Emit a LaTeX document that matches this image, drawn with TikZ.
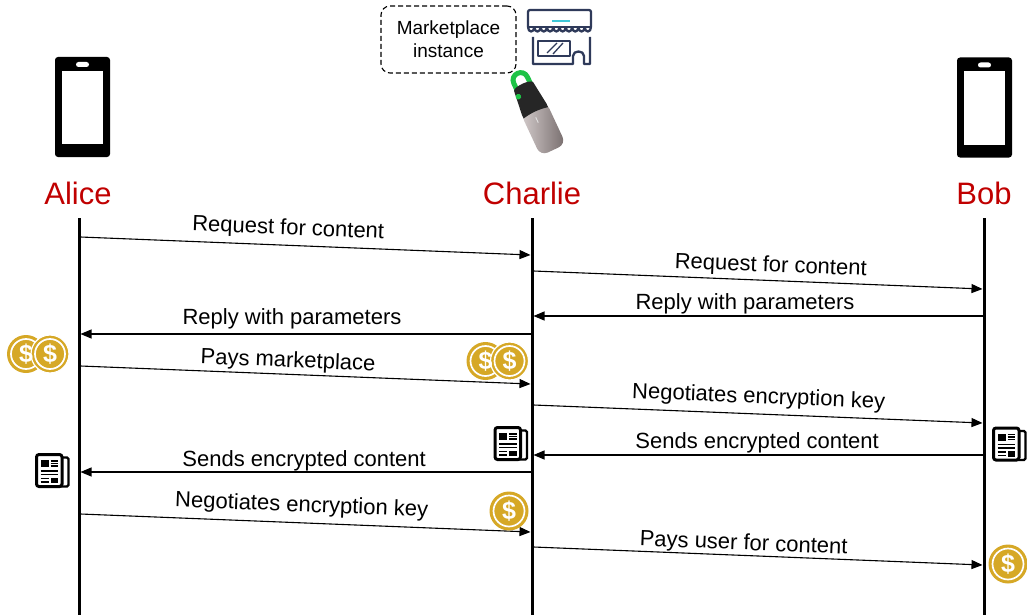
\documentclass[tikz,border=0pt]{standalone}
\usepackage{fontspec}
\setmainfont{Liberation Sans}
\usetikzlibrary{arrows.meta}
\definecolor{namered}{RGB}{192,0,0}
\definecolor{gold}{RGB}{214,168,38}
\definecolor{storeblue}{RGB}{47,58,90}
\definecolor{storecyan}{RGB}{64,200,216}
\definecolor{keygreen}{RGB}{30,195,70}
\definecolor{keyblack}{RGB}{38,38,38}
\begin{document}
\begin{tikzpicture}[x=1pt,y=-1pt,
  lifeline/.style={line width=3pt},
  msg/.style={line width=1.1pt,-{Triangle[length=11pt,width=9pt]}},
  msglabel/.style={sloped,inner sep=0pt,font=\fontsize{22}{26}\selectfont},
  actor/.style={text=namered,font=\fontsize{31}{36}\selectfont,anchor=base},
  dollar/.style={text=white,inner sep=0pt,font=\bfseries\fontsize{25}{25}\selectfont},
  coin/.pic={
    \fill[gold] (0,0) circle[radius=19.5];
    \draw[white,line width=1.7pt] (0,0) circle[radius=15.5];
    \node[dollar] at (0,0) {\$};
  },
  twocoins/.pic={
    \fill[gold] (-12,0) circle[radius=19];
    \draw[white,line width=1.7pt] (-12,0) circle[radius=15];
    \draw[white,line width=1.2pt,fill=gold] (12,0) circle[radius=19];
    \draw[white,line width=1.7pt] (12,0) circle[radius=15];
    \node[dollar] at (-12,0) {\$};
    \node[dollar] at (12,0) {\$};
  },
  phone/.pic={
    \fill[rounded corners=3pt] (-27.5,-50) rectangle (27.5,50);
    \fill[white] (-20.5,-36) rectangle (20.5,37);
    \fill[white,rounded corners=2.5pt] (-6.5,-45) rectangle (6.5,-40);
  },
  newspaper/.pic={
    \draw[line width=2.4pt,rounded corners=1.5pt] (10,-13) -- (16.5,-13) -- (16.5,16) -- (8,16);
    \draw[line width=3pt,rounded corners=2.5pt,fill=white] (-15.5,-16) rectangle (10,16);
    \fill (-11.5,-10.5) rectangle (-3.5,-3.5);
    \draw[line width=1.6pt] (-1.5,-9.5) -- (6,-9.5) (-1.5,-7) -- (6,-7) (-1.5,-4.5) -- (6,-4.5)
      (-11.5,0.5) -- (6,0.5) (-11.5,4) -- (6,4)
      (-11.5,8) -- (-3.5,8) (-11.5,11.5) -- (-3.5,11.5);
    \fill (-1.5,7) rectangle (6,12.5);
  }
]
\useasboundingbox (0,0) rectangle (1027,615);

% participants
\pic (alicephone) at (82.5,107) {phone};
\pic (bobphone) at (984.5,107.5) {phone};
\node[actor] (alice) at (78,204) {Alice};
\node[actor] (charlie) at (532,204) {Charlie};
\node[actor] (bob) at (984,204) {Bob};

% marketplace instance with its shop and hardware key
\node[draw,dash pattern=on 5pt off 3pt,rounded corners=9pt,line width=1.1pt,
  minimum width=135pt,minimum height=67pt,align=center,
  font=\fontsize{19}{23}\selectfont] (market) at (448.5,39.5) {Marketplace\\instance};

\begin{scope}[draw=storeblue,line width=2.3pt,line join=round]
  \draw[rounded corners=2pt] (528,27) -- (528,10) -- (591,10) -- (591,27);
  \draw (528,27) -- (591,27);
  \foreach \i in {0,...,9}
    \draw (528+6.3*\i,27) .. controls (528+6.3*\i,33) and (534.3+6.3*\i,33) .. (534.3+6.3*\i,27);
  \draw (533,37) -- (533,64) -- (573,64) -- (573,56) .. controls (573,50) and (584,50) .. (584,56)
    -- (584,64) -- (590,64) -- (590,37);
  \draw (538,41) rectangle (570,56);
  \draw[line width=1.3pt] (547,53) -- (557,43) (553,54) -- (563,43);
  \draw[storecyan,line width=2pt] (552,21) -- (570,21);
\end{scope}

\begin{scope}[shift={(535,111)},rotate=25]
  \draw[keygreen,line width=5pt,line cap=round] (-7.5,-22) -- (-7.5,-34)
    .. controls (-7.5,-44) and (7.5,-44) .. (7.5,-34) -- (7.5,-22);
  \shade[left color={rgb,255:red,212;green,204;blue,204},right color={rgb,255:red,118;green,108;blue,108},
    rounded corners=8pt] (-14,-4) rectangle (14,43);
  \fill[keyblack] (-13.5,2) -- (-13.5,-2) -- (-10.5,-27) .. controls (-9,-31) and (9,-31) .. (10.5,-27)
    -- (13.5,-2) -- (13.5,2) .. controls (4,0) and (-4,0) .. (-13.5,2) -- cycle;
  \fill[keygreen] (-9,-20) circle[radius=2.8];
  \draw[white!80!gray,line width=0.8pt] (-2,6) -- (-2,12);
\end{scope}

% lifelines
\coordinate (aT) at (79,218);  \coordinate (aB) at (79,615);
\coordinate (cT) at (532,218); \coordinate (cB) at (532,615);
\coordinate (bT) at (984,218); \coordinate (bB) at (984,615);
\draw[lifeline] (aT) -- (aB);
\draw[lifeline] (cT) -- (cB);
\draw[lifeline] (bT) -- (bB);

% message end points
\coordinate (m1s) at (80.5,237);  \coordinate (m1e) at (530.5,255);
\coordinate (m2s) at (533.5,271); \coordinate (m2e) at (982.5,289);
\coordinate (m3s) at (982.5,316); \coordinate (m3e) at (533.5,316);
\coordinate (m4s) at (530.5,334); \coordinate (m4e) at (80.5,334);
\coordinate (m5s) at (80.5,366);  \coordinate (m5e) at (530.5,384);
\coordinate (m6s) at (533.5,405); \coordinate (m6e) at (982.5,423);
\coordinate (m7s) at (982.5,455); \coordinate (m7e) at (533.5,455);
\coordinate (m8s) at (530.5,472); \coordinate (m8e) at (80.5,472);
\coordinate (m9s) at (80.5,514);  \coordinate (m9e) at (530.5,532);
\coordinate (m10s) at (533.5,547); \coordinate (m10e) at (982.5,565);

% messages
\draw[msg] (m1s) -- node[msglabel,pos=0.46,above=5.5pt] {Request for content} (m1e);
\draw[msg] (m2s) -- node[msglabel,pos=0.527,above=3.5pt] {Request for content} (m2e);
\draw[msg] (m3s) -- node[msglabel,pos=0.529,above=1pt] {Reply with parameters} (m3e);
\draw[msg] (m4s) -- node[msglabel,pos=0.53,above=4pt] {Reply with parameters} (m4e);
\draw[msg] (m5s) -- node[msglabel,pos=0.46,above=2pt] {Pays marketplace} (m5e);
\draw[msg] (m6s) -- node[msglabel,pos=0.5,above=5.5pt] {Negotiates encryption key} (m6e);
\draw[msg] (m7s) -- node[msglabel,pos=0.502,above=1pt] {Sends encrypted content} (m7e);
\draw[msg] (m8s) -- node[msglabel,pos=0.503,above=0pt] {Sends encrypted content} (m8e);
\draw[msg] (m9s) -- node[msglabel,pos=0.49,above=6pt] {Negotiates encryption key} (m9e);
\draw[msg] (m10s) -- node[msglabel,pos=0.467,above=0.5pt] {Pays user for content} (m10e);

% payments and content
\pic (alicecoins) at (38,354) {twocoins};
\pic (charliecoins) at (497.5,361) {twocoins};
\pic (charliecoin) at (509,511) {coin};
\pic (bobcoin) at (1008,564) {coin};
\pic (alicenews) at (52,470.5) {newspaper};
\pic (charlienews) at (510.5,443.5) {newspaper};
\pic (bobnews) at (1009,444) {newspaper};
\end{tikzpicture}
\end{document}
